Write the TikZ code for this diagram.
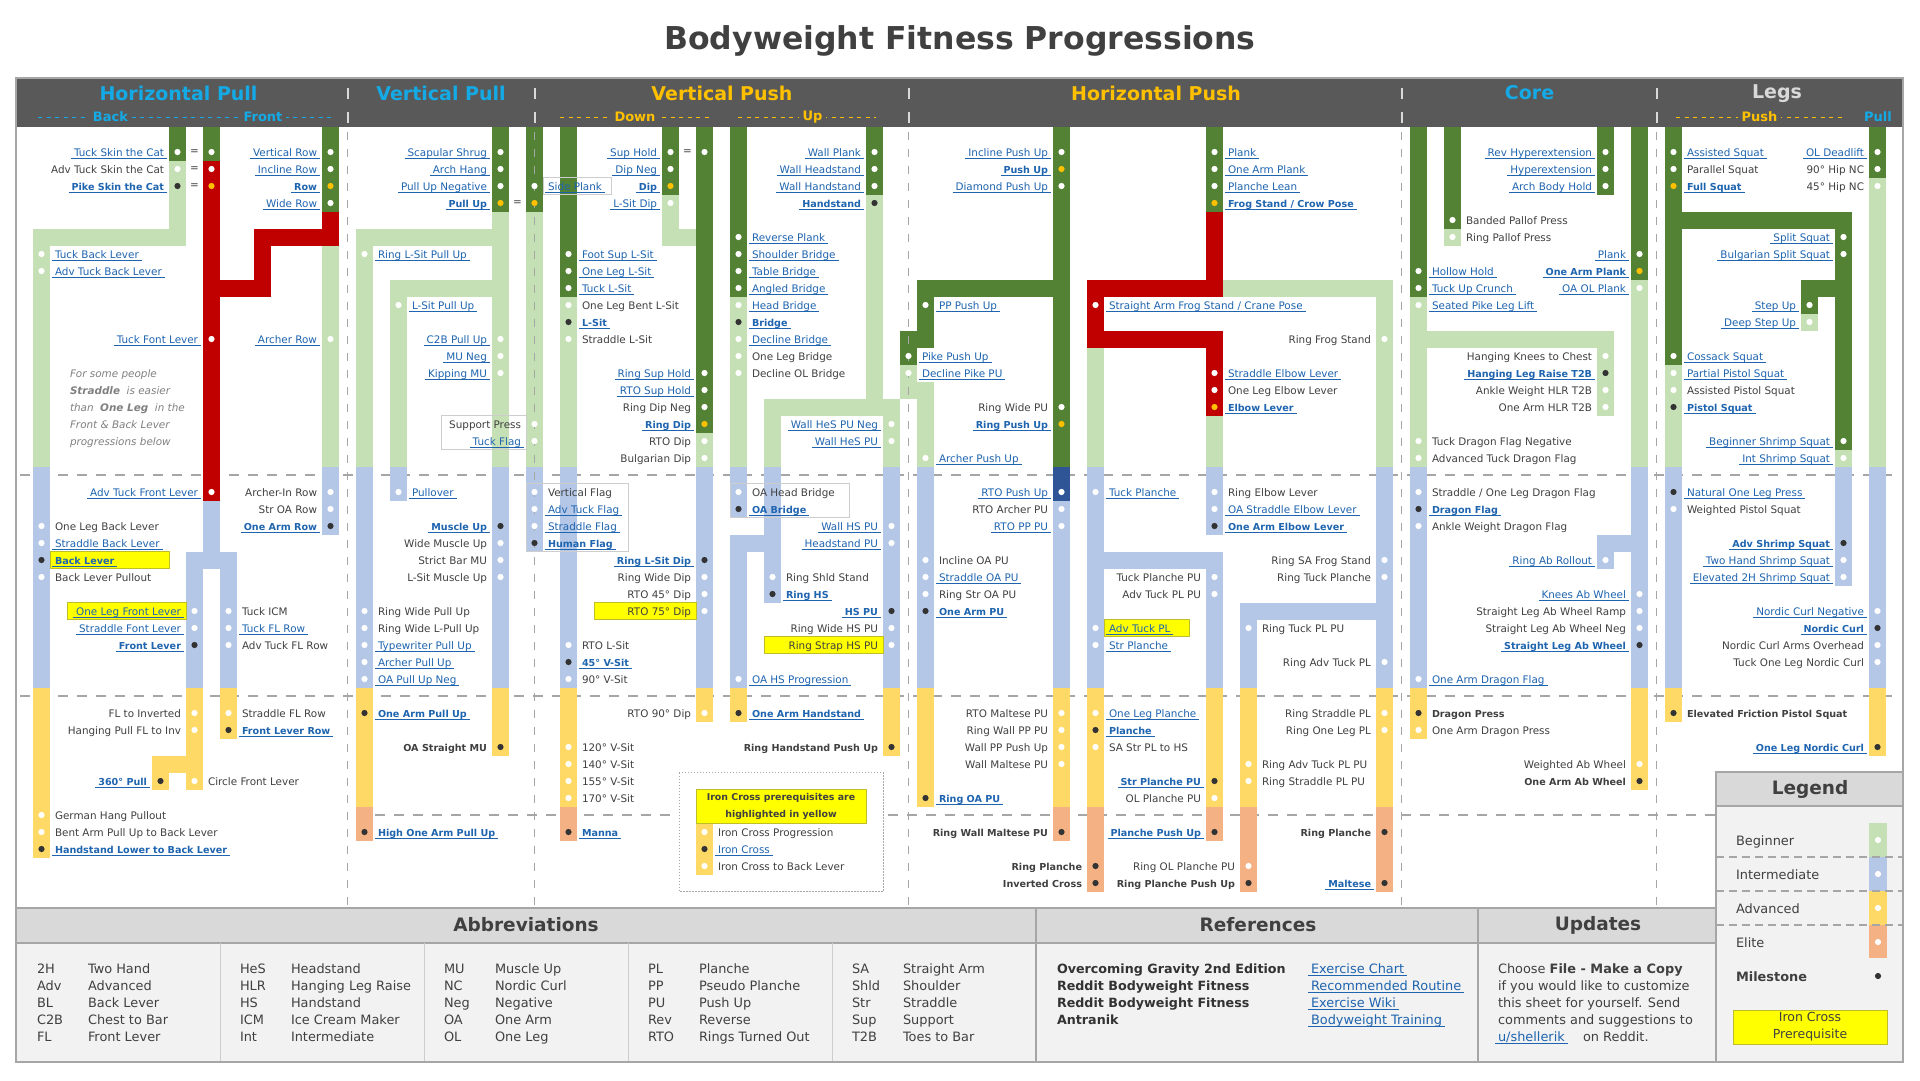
\documentclass[tikz,border=0pt]{standalone}
\usepackage{fontspec}
\setmainfont{DejaVu Sans}
\definecolor{cLG}{RGB}{197,224,180}
\definecolor{cDG}{RGB}{84,130,53}
\definecolor{cRD}{RGB}{192,0,0}
\definecolor{cBL}{RGB}{180,199,231}
\definecolor{cNB}{RGB}{47,85,151}
\definecolor{cYL}{RGB}{255,217,102}
\definecolor{cOR}{RGB}{244,177,131}
\definecolor{cHI}{RGB}{255,255,0}
\definecolor{cHIB}{RGB}{190,190,40}
\definecolor{cDY}{RGB}{255,192,0}
\definecolor{cDK}{RGB}{51,51,51}
\definecolor{cTG}{RGB}{64,64,64}
\definecolor{cNT}{RGB}{128,128,128}
\definecolor{cLK}{RGB}{30,100,175}
\definecolor{cHD}{RGB}{89,89,89}
\definecolor{cCY}{RGB}{20,170,230}
\definecolor{cHY}{RGB}{255,192,0}
\definecolor{cSEP}{RGB}{166,166,166}
\definecolor{cPG}{RGB}{217,217,217}
\definecolor{cPB}{RGB}{242,242,242}
\definecolor{cBX}{RGB}{205,205,205}
\newcounter{nc}
\newcommand\fs{\fontsize{10.4pt}{12pt}\selectfont}
\newcommand\fb{\fontsize{9.6pt}{12pt}\selectfont\bfseries}
\newcommand\fm{\fontsize{12.9pt}{15pt}\selectfont}
\newcommand\ft{\fontsize{18.5pt}{22pt}\selectfont\bfseries}
\tikzset{
  tb/.style={inner sep=0pt, outer sep=0pt},
  ulk/.style={append after command={([xshift=-3pt,yshift=-2.3pt]\tikzlastnode.base west) edge[draw=cLK, line width=0.7pt] ([xshift=3pt,yshift=-2.3pt]\tikzlastnode.base east)}},
  tp/.style={tb, font=\fs, text=cTG},
  tbp/.style={tb, font=\fb, text=cTG},
  tl/.style={tb, font=\fs, text=cLK, ulk},
  tbl/.style={tb, font=\fb, text=cLK, ulk},
  dw/.style={fill=white}, dy/.style={fill=cDY}, dk/.style={fill=cDK}, dn/.style={},
  hdrtitle/.style={font=\fontsize{19pt}{22pt}\selectfont\bfseries},
  subh/.style={fill=cHD, inner xsep=4pt, inner ysep=1pt, font=\fontsize{13pt}{15pt}\selectfont\bfseries},
  bt/.style={tb, font=\fm, text=cTG, anchor=base west},
}
\newcommand\BR[5]{\fill[#1] (#2,#3) rectangle (#4+1,#5+1);}
\newcommand\D[3]{\path[d#3] (#1+.5,#2+.5) circle (3.1pt);}
\newcommand\Rt[5]{\D{#1}{#2}{#4}\stepcounter{nc}\node[t#3, anchor=base east] (n\arabic{nc}) at ([xshift=-5pt,yshift=-4pt]#1,#2+.5) {#5};}
\newcommand\Lt[5]{\D{#1}{#2}{#4}\stepcounter{nc}\node[t#3, anchor=base west] (n\arabic{nc}) at ([xshift=5pt,yshift=-4pt]#1+1,#2+.5) {#5};}
\newcommand\HB[4]{\filldraw[fill=cHI, draw=cHIB, line width=0.8pt] (#1,#2) rectangle (#3+1,#4+1);}
\newcommand\GB[4]{\draw[cBX, line width=1pt] (#1,#2) rectangle (#3+1,#4+1);}
\newcommand\AB[4]{\stepcounter{nc}\node[bt] (n\arabic{nc}) at (#1,#2) {#3};\stepcounter{nc}\node[bt] (n\arabic{nc}) at (#1+51,#2) {#4};}
\begin{document}
\begin{tikzpicture}
\useasboundingbox (0,0) rectangle (1920pt,-1080pt);
\fill[white] (0,0) rectangle (1920pt,-1080pt);
%================ pixel scope: frame, header, tier lines
\begin{scope}[x=1pt,y=-1pt]
\node[font=\fontsize{31.5pt}{36pt}\selectfont\bfseries, text=cTG] (title) at (960,41) {Bodyweight Fitness Progressions};
\fill[cHD] (16,79) rectangle (1903,127);
\node[hdrtitle, text=cCY] (h1) at (178.5,93) {Horizontal Pull};
\node[hdrtitle, text=cCY] (h2) at (441,93) {Vertical Pull};
\node[hdrtitle, text=cHY] (h3) at (722,93) {Vertical Push};
\node[hdrtitle, text=cHY] (h4) at (1156,93) {Horizontal Push};
\node[hdrtitle, text=cCY] (h5) at (1529.5,93) {Core};
\node[hdrtitle, text=cPG] (h6) at (1777,94) {Legs};
\draw[cCY, line width=1.6pt, dash pattern=on 4pt off 4.5pt] (38,117.5) -- (335,117.5);
\node[subh, text=cCY] (s1) at (110.5,117) {Back};
\node[subh, text=cCY] (s2) at (263,117) {Front};
\draw[cHY, line width=1.6pt, dash pattern=on 4pt off 4.5pt] (560,117.5) -- (709,117.5);
\node[subh, text=cHY] (s3) at (635,117) {Down};
\draw[cHY, line width=1.6pt, dash pattern=on 4pt off 4.5pt] (738,117.5) -- (876,117.5);
\node[subh, text=cHY] (s4) at (812.5,117) {Up};
\draw[cHY, line width=1.6pt, dash pattern=on 4pt off 4.5pt] (1676,117.5) -- (1842,117.5);
\node[subh, text=cHY] (s5) at (1759.5,117) {Push};
\node[subh, text=cCY] (s6) at (1878,117) {Pull};
\foreach \sx in {347.5,534.5,908.5,1401.5,1656.5}{
  \draw[cPG, line width=2pt, dash pattern=on 11pt off 13pt] (\sx,88) -- (\sx,126);
}
% tier lines
\draw[cSEP, line width=1.3pt, dash pattern=on 10pt off 9pt] (20,475) -- (1900,475);
\draw[cSEP, line width=1.3pt, dash pattern=on 10pt off 9pt] (20,696) -- (1900,696);
\draw[cSEP, line width=1.3pt, dash pattern=on 10pt off 9pt] (356,815) -- (1716,815);
% italic note
\node[tb, font=\fs\itshape, text=cNT, anchor=base west] (note1) at (70,377) {For some people};
\node[tb, font=\fs\itshape, text=cNT, anchor=base west] (note2) at (70,394) {\textbf{Straddle}\ \ is easier};
\node[tb, font=\fs\itshape, text=cNT, anchor=base west] (note3) at (70,411) {than\ \ \textbf{One Leg}\ \ in the};
\node[tb, font=\fs\itshape, text=cNT, anchor=base west] (note4) at (70,428) {Front \& Back Lever};
\node[tb, font=\fs\itshape, text=cNT, anchor=base west] (note5) at (70,445) {progressions below};
\end{scope}
%================ grid scope: bars
\begin{scope}[shift={(16pt,-143.5pt)}, x=17pt, y=-17pt]
\filldraw[fill=white, draw=cSEP, dash pattern=on 1.5pt off 1.5pt, line width=0.8pt] (39,37) rectangle (51,44);
% HP
\BR{cLG}{1}{5}{1}{18}\BR{cBL}{1}{19}{1}{31}\BR{cYL}{1}{32}{1}{41}
\BR{cLG}{1}{5}{9}{5}
\BR{cDG}{9}{-1}{9}{0}\BR{cLG}{9}{1}{9}{5}
\BR{cDG}{11}{-1}{11}{0}\BR{cRD}{11}{1}{11}{20}\BR{cBL}{11}{21}{11}{23}
\BR{cRD}{11}{8}{14}{8}\BR{cRD}{14}{5}{14}{8}\BR{cRD}{14}{5}{18}{5}\BR{cRD}{18}{4}{18}{5}
\BR{cDG}{18}{-1}{18}{3}\BR{cLG}{18}{6}{18}{18}\BR{cBL}{18}{19}{18}{22}
\BR{cBL}{10}{24}{12}{24}
\BR{cBL}{10}{25}{10}{31}\BR{cYL}{10}{32}{10}{37}
\BR{cBL}{12}{25}{12}{31}\BR{cYL}{12}{32}{12}{34}
\BR{cYL}{8}{36}{10}{36}\BR{cYL}{8}{37}{8}{37}
% VP
\BR{cLG}{20}{5}{20}{18}\BR{cBL}{20}{19}{20}{31}\BR{cYL}{20}{32}{20}{38}\BR{cOR}{20}{39}{20}{40}
\BR{cLG}{20}{5}{28}{5}\BR{cLG}{22}{8}{28}{8}
\BR{cLG}{22}{8}{22}{18}\BR{cBL}{22}{19}{22}{20}
\BR{cDG}{28}{-1}{28}{3}\BR{cLG}{28}{4}{28}{18}\BR{cBL}{28}{19}{28}{31}\BR{cYL}{28}{32}{28}{35}
\BR{cDG}{30}{-1}{30}{3}\BR{cLG}{30}{4}{30}{18}\BR{cBL}{30}{19}{30}{23}
% VPush
\BR{cDG}{32}{-1}{32}{8}\BR{cLG}{32}{9}{32}{18}\BR{cBL}{32}{19}{32}{31}\BR{cYL}{32}{32}{32}{38}\BR{cOR}{32}{39}{32}{40}
\BR{cDG}{38}{-1}{38}{2}\BR{cLG}{38}{3}{38}{5}\BR{cLG}{38}{5}{39}{5}
\BR{cDG}{40}{-1}{40}{16}\BR{cLG}{40}{17}{40}{18}\BR{cBL}{40}{19}{40}{31}\BR{cYL}{40}{32}{40}{33}
\BR{cDG}{42}{-1}{42}{8}\BR{cLG}{42}{9}{42}{18}\BR{cBL}{42}{19}{42}{21}
\BR{cBL}{42}{23}{44}{23}\BR{cBL}{42}{23}{42}{31}\BR{cYL}{42}{32}{42}{33}
\BR{cDG}{50}{-1}{50}{2}\BR{cLG}{50}{3}{50}{15}
\BR{cLG}{44}{15}{51}{15}\BR{cLG}{44}{15}{44}{18}\BR{cBL}{44}{19}{44}{26}
\BR{cLG}{51}{15}{51}{18}\BR{cBL}{51}{19}{51}{31}\BR{cYL}{51}{32}{51}{35}
\BR{cYL}{40}{40}{40}{42}
% HPush
\BR{cDG}{52}{11}{52}{12}\BR{cLG}{52}{13}{52}{14}
\BR{cDG}{53}{8}{53}{11}\BR{cLG}{53}{14}{53}{18}\BR{cBL}{53}{19}{53}{31}\BR{cYL}{53}{32}{53}{38}
\BR{cDG}{53}{8}{61}{8}
\BR{cDG}{61}{-1}{61}{18}\BR{cNB}{61}{19}{61}{20}\BR{cBL}{61}{21}{61}{31}\BR{cYL}{61}{32}{61}{38}\BR{cOR}{61}{39}{61}{40}
\BR{cRD}{63}{8}{63}{11}\BR{cLG}{63}{12}{63}{18}\BR{cBL}{63}{19}{63}{31}\BR{cYL}{63}{32}{63}{38}\BR{cOR}{63}{39}{63}{43}
\BR{cRD}{63}{8}{70}{8}\BR{cRD}{63}{11}{70}{11}
\BR{cDG}{70}{-1}{70}{3}\BR{cRD}{70}{4}{70}{8}\BR{cRD}{70}{11}{70}{15}\BR{cLG}{70}{16}{70}{18}\BR{cBL}{70}{19}{70}{22}
\BR{cBL}{63}{24}{70}{24}\BR{cBL}{70}{24}{70}{31}\BR{cYL}{70}{32}{70}{38}\BR{cOR}{70}{39}{70}{40}
\BR{cLG}{71}{8}{80}{8}
\BR{cLG}{80}{8}{80}{18}\BR{cBL}{80}{19}{80}{31}\BR{cYL}{80}{32}{80}{38}\BR{cOR}{80}{39}{80}{43}
\BR{cBL}{72}{27}{80}{27}\BR{cBL}{72}{27}{72}{31}\BR{cYL}{72}{32}{72}{38}\BR{cOR}{72}{39}{72}{43}
% Core
\BR{cDG}{82}{-1}{82}{8}\BR{cLG}{82}{9}{82}{18}\BR{cBL}{82}{19}{82}{31}\BR{cYL}{82}{32}{82}{34}
\BR{cDG}{84}{-1}{84}{4}\BR{cLG}{84}{5}{84}{5}
\BR{cDG}{93}{-1}{93}{2}
\BR{cLG}{82}{11}{93}{11}\BR{cLG}{93}{11}{93}{15}
\BR{cBL}{93}{23}{95}{23}\BR{cBL}{93}{23}{93}{24}
\BR{cDG}{95}{-1}{95}{7}\BR{cLG}{95}{8}{95}{18}\BR{cBL}{95}{19}{95}{31}\BR{cYL}{95}{32}{95}{37}
% Legs
\BR{cDG}{97}{-1}{97}{12}\BR{cLG}{97}{13}{97}{18}\BR{cBL}{97}{19}{97}{31}\BR{cYL}{97}{32}{97}{33}
\BR{cDG}{97}{4}{107}{4}\BR{cDG}{107}{4}{107}{17}\BR{cLG}{107}{18}{107}{18}\BR{cBL}{107}{19}{107}{25}
\BR{cDG}{105}{8}{107}{8}\BR{cDG}{105}{8}{105}{9}\BR{cLG}{105}{10}{105}{10}
\BR{cDG}{109}{-1}{109}{1}\BR{cLG}{109}{2}{109}{18}\BR{cBL}{109}{19}{109}{31}\BR{cYL}{109}{32}{109}{35}
% boxes
\HB{2}{24}{8}{24}\HB{3}{27}{9}{27}\HB{34}{27}{39}{27}\HB{44}{29}{50}{29}\HB{64}{28}{68}{28}\HB{40}{38}{49}{39}
\GB{31}{2}{34}{2}\GB{25}{16}{29}{17}\GB{30}{20}{35}{23}\GB{42}{20}{48}{21}
\end{scope}
%================ separators
\begin{scope}[x=1pt,y=-1pt]
\foreach \sx in {347.5,534.5,908.5,1401.5,1656.5}{
  \draw[cSEP, line width=1.8pt, dash pattern=on 8.5pt off 8.5pt] (\sx,131.5) -- (\sx,908);
}
\end{scope}
%================ grid scope: dots and texts
\begin{scope}[shift={(16pt,-143.5pt)}, x=17pt, y=-17pt]
% HP
\Rt{9}{0}{l}{w}{Tuck Skin the Cat}
\Rt{9}{1}{p}{w}{Adv Tuck Skin the Cat}
\Rt{9}{2}{bl}{k}{Pike Skin the Cat}
\node[tp] (eq1) at (10.5,0.5) {=};
\node[tp] (eq2) at (10.5,1.5) {=};
\node[tp] (eq3) at (10.5,2.5) {=};
\D{11}{0}{w}\D{11}{1}{w}\D{11}{2}{y}
\Rt{18}{0}{l}{w}{Vertical Row}
\Rt{18}{1}{l}{w}{Incline Row}
\Rt{18}{2}{bl}{y}{Row}
\Rt{18}{3}{l}{w}{Wide Row}
\Lt{1}{6}{l}{w}{Tuck Back Lever}
\Lt{1}{7}{l}{w}{Adv Tuck Back Lever}
\Rt{11}{11}{l}{w}{Tuck Font Lever}
\Rt{18}{11}{l}{w}{Archer Row}
\Rt{11}{20}{l}{w}{Adv Tuck Front Lever}
\Rt{18}{20}{p}{w}{Archer-In Row}
\Rt{18}{21}{p}{w}{Str OA Row}
\Rt{18}{22}{bl}{k}{One Arm Row}
\Lt{1}{22}{p}{w}{One Leg Back Lever}
\Lt{1}{23}{l}{w}{Straddle Back Lever}
\Lt{1}{24}{bl}{k}{Back Lever}
\Lt{1}{25}{p}{w}{Back Lever Pullout}
\Rt{10}{27}{l}{w}{One Leg Front Lever}
\Rt{10}{28}{l}{w}{Straddle Font Lever}
\Rt{10}{29}{bl}{k}{Front Lever}
\Lt{12}{27}{p}{w}{Tuck ICM}
\Lt{12}{28}{l}{w}{Tuck FL Row}
\Lt{12}{29}{p}{w}{Adv Tuck FL Row}
\Rt{10}{33}{p}{w}{FL to Inverted}
\Rt{10}{34}{p}{w}{Hanging Pull FL to Inv}
\Lt{12}{33}{p}{w}{Straddle FL Row}
\Lt{12}{34}{bl}{k}{Front Lever Row}
\Rt{8}{37}{bl}{k}{360° Pull}
\Lt{10}{37}{p}{w}{Circle Front Lever}
\Lt{1}{39}{p}{w}{German Hang Pullout}
\Lt{1}{40}{p}{w}{Bent Arm Pull Up to Back Lever}
\Lt{1}{41}{bl}{k}{Handstand Lower to Back Lever}
% VP
\Rt{28}{0}{l}{w}{Scapular Shrug}
\Rt{28}{1}{l}{w}{Arch Hang}
\Rt{28}{2}{l}{w}{Pull Up Negative}
\Rt{28}{3}{bl}{y}{Pull Up}
\node[tp] (eq4) at (29.5,3.5) {=};
\Lt{30}{2}{l}{w}{Side Plank}
\D{30}{3}{y}
\Lt{20}{6}{l}{w}{Ring L-Sit Pull Up}
\Lt{22}{9}{l}{w}{L-Sit Pull Up}
\Rt{28}{11}{l}{w}{C2B Pull Up}
\Rt{28}{12}{l}{w}{MU Neg}
\Rt{28}{13}{l}{w}{Kipping MU}
\Rt{30}{16}{p}{w}{Support Press}
\Rt{30}{17}{l}{w}{Tuck Flag}
\Lt{22}{20}{l}{w}{Pullover}
\Rt{28}{22}{bl}{k}{Muscle Up}
\Rt{28}{23}{p}{w}{Wide Muscle Up}
\Rt{28}{24}{p}{w}{Strict Bar MU}
\Rt{28}{25}{p}{w}{L-Sit Muscle Up}
\Lt{30}{20}{p}{w}{Vertical Flag}
\Lt{30}{21}{l}{w}{Adv Tuck Flag}
\Lt{30}{22}{l}{w}{Straddle Flag}
\Lt{30}{23}{bl}{k}{Human Flag}
\Lt{20}{27}{p}{w}{Ring Wide Pull Up}
\Lt{20}{28}{p}{w}{Ring Wide L-Pull Up}
\Lt{20}{29}{l}{w}{Typewriter Pull Up}
\Lt{20}{30}{l}{w}{Archer Pull Up}
\Lt{20}{31}{l}{w}{OA Pull Up Neg}
\Lt{20}{33}{bl}{k}{One Arm Pull Up}
\Rt{28}{35}{bp}{k}{OA Straight MU}
\Lt{20}{40}{bl}{k}{High One Arm Pull Up}
% VPush
\Rt{38}{0}{l}{w}{Sup Hold}
\Rt{38}{1}{l}{w}{Dip Neg}
\Rt{38}{2}{bl}{y}{Dip}
\Rt{38}{3}{l}{w}{L-Sit Dip}
\node[tp] (eq5) at (39.5,0.5) {=};
\D{40}{0}{w}
\Lt{32}{6}{l}{w}{Foot Sup L-Sit}
\Lt{32}{7}{l}{w}{One Leg L-Sit}
\Lt{32}{8}{l}{w}{Tuck L-Sit}
\Lt{32}{9}{p}{w}{One Leg Bent L-Sit}
\Lt{32}{10}{bl}{k}{L-Sit}
\Lt{32}{11}{p}{w}{Straddle L-Sit}
\Rt{40}{13}{l}{w}{Ring Sup Hold}
\Rt{40}{14}{l}{w}{RTO Sup Hold}
\Rt{40}{15}{p}{w}{Ring Dip Neg}
\Rt{40}{16}{bl}{y}{Ring Dip}
\Rt{40}{17}{p}{w}{RTO Dip}
\Rt{40}{18}{p}{w}{Bulgarian Dip}
\Rt{40}{24}{bl}{k}{Ring L-Sit Dip}
\Rt{40}{25}{p}{w}{Ring Wide Dip}
\Rt{40}{26}{p}{w}{RTO 45° Dip}
\Rt{40}{27}{p}{w}{RTO 75° Dip}
\Rt{40}{33}{p}{w}{RTO 90° Dip}
\Lt{32}{29}{p}{w}{RTO L-Sit}
\Lt{32}{30}{bl}{k}{45° V-Sit}
\Lt{32}{31}{p}{w}{90° V-Sit}
\Lt{32}{35}{p}{w}{120° V-Sit}
\Lt{32}{36}{p}{w}{140° V-Sit}
\Lt{32}{37}{p}{w}{155° V-Sit}
\Lt{32}{38}{p}{w}{170° V-Sit}
\Lt{32}{40}{bl}{k}{Manna}
\Rt{50}{0}{l}{w}{Wall Plank}
\Rt{50}{1}{l}{w}{Wall Headstand}
\Rt{50}{2}{l}{w}{Wall Handstand}
\Rt{50}{3}{bl}{k}{Handstand}
\Lt{42}{5}{l}{w}{Reverse Plank}
\Lt{42}{6}{l}{w}{Shoulder Bridge}
\Lt{42}{7}{l}{w}{Table Bridge}
\Lt{42}{8}{l}{w}{Angled Bridge}
\Lt{42}{9}{l}{w}{Head Bridge}
\Lt{42}{10}{bl}{k}{Bridge}
\Lt{42}{11}{l}{w}{Decline Bridge}
\Lt{42}{12}{p}{w}{One Leg Bridge}
\Lt{42}{13}{p}{w}{Decline OL Bridge}
\Rt{51}{16}{l}{w}{Wall HeS PU Neg}
\Rt{51}{17}{l}{w}{Wall HeS PU}
\Lt{42}{20}{p}{w}{OA Head Bridge}
\Lt{42}{21}{bl}{k}{OA Bridge}
\Rt{51}{22}{l}{w}{Wall HS PU}
\Rt{51}{23}{l}{w}{Headstand PU}
\Lt{44}{25}{p}{w}{Ring Shld Stand}
\Lt{44}{26}{bl}{k}{Ring HS}
\Rt{51}{27}{bl}{k}{HS PU}
\Rt{51}{28}{p}{w}{Ring Wide HS PU}
\Rt{51}{29}{p}{w}{Ring Strap HS PU}
\Lt{42}{31}{l}{w}{OA HS Progression}
\Lt{42}{33}{bl}{k}{One Arm Handstand}
\Rt{51}{35}{bp}{k}{Ring Handstand Push Up}
\node[tb, font=\fontsize{9.4pt}{17pt}\selectfont\bfseries, text=cTG, align=center] (icnote) at (45,39) {Iron Cross prerequisites are\\highlighted in yellow};
\Lt{40}{40}{p}{w}{Iron Cross Progression}
\Lt{40}{41}{l}{k}{Iron Cross}
\Lt{40}{42}{p}{w}{Iron Cross to Back Lever}
% HPush
\Rt{61}{0}{l}{w}{Incline Push Up}
\Rt{61}{1}{bl}{y}{Push Up}
\Rt{61}{2}{l}{w}{Diamond Push Up}
\Lt{70}{0}{l}{w}{Plank}
\Lt{70}{1}{l}{w}{One Arm Plank}
\Lt{70}{2}{l}{w}{Planche Lean}
\Lt{70}{3}{bl}{y}{Frog Stand / Crow Pose}
\Lt{53}{9}{l}{w}{PP Push Up}
\Lt{63}{9}{l}{w}{Straight Arm Frog Stand / Crane Pose}
\Rt{80}{11}{p}{w}{Ring Frog Stand}
\Lt{52}{12}{l}{w}{Pike Push Up}
\Lt{52}{13}{l}{w}{Decline Pike PU}
\Lt{70}{13}{l}{w}{Straddle Elbow Lever}
\Lt{70}{14}{p}{w}{One Leg Elbow Lever}
\Lt{70}{15}{bl}{y}{Elbow Lever}
\Rt{61}{15}{p}{w}{Ring Wide PU}
\Rt{61}{16}{bl}{y}{Ring Push Up}
\Lt{53}{18}{l}{w}{Archer Push Up}
\Rt{61}{20}{l}{w}{RTO Push Up}
\Rt{61}{21}{p}{w}{RTO Archer PU}
\Rt{61}{22}{l}{w}{RTO PP PU}
\Lt{63}{20}{l}{w}{Tuck Planche}
\Lt{70}{20}{p}{w}{Ring Elbow Lever}
\Lt{70}{21}{l}{w}{OA Straddle Elbow Lever}
\Lt{70}{22}{bl}{k}{One Arm Elbow Lever}
\Lt{53}{24}{p}{w}{Incline OA PU}
\Lt{53}{25}{l}{w}{Straddle OA PU}
\Lt{53}{26}{p}{w}{Ring Str OA PU}
\Lt{53}{27}{bl}{k}{One Arm PU}
\Rt{80}{24}{p}{w}{Ring SA Frog Stand}
\Rt{80}{25}{p}{w}{Ring Tuck Planche}
\Rt{70}{25}{p}{w}{Tuck Planche PU}
\Rt{70}{26}{p}{w}{Adv Tuck PL PU}
\Lt{63}{28}{l}{w}{Adv Tuck PL}
\Lt{63}{29}{l}{w}{Str Planche}
\Lt{72}{28}{p}{w}{Ring Tuck PL PU}
\Rt{80}{30}{p}{w}{Ring Adv Tuck PL}
\Rt{61}{33}{p}{w}{RTO Maltese PU}
\Rt{61}{34}{p}{w}{Ring Wall PP PU}
\Rt{61}{35}{p}{w}{Wall PP Push Up}
\Rt{61}{36}{p}{w}{Wall Maltese PU}
\Lt{53}{38}{bl}{k}{Ring OA PU}
\Lt{63}{33}{l}{w}{One Leg Planche}
\Lt{63}{34}{bl}{k}{Planche}
\Lt{63}{35}{p}{w}{SA Str PL to HS}
\Rt{80}{33}{p}{w}{Ring Straddle PL}
\Rt{80}{34}{p}{w}{Ring One Leg PL}
\Lt{72}{36}{p}{w}{Ring Adv Tuck PL PU}
\Lt{72}{37}{p}{w}{Ring Straddle PL PU}
\Rt{70}{37}{bl}{k}{Str Planche PU}
\Rt{70}{38}{p}{w}{OL Planche PU}
\Rt{61}{40}{bp}{k}{Ring Wall Maltese PU}
\Rt{70}{40}{bl}{k}{Planche Push Up}
\Rt{80}{40}{bp}{k}{Ring Planche}
\Rt{63}{42}{bp}{k}{Ring Planche}
\Rt{63}{43}{bp}{k}{Inverted Cross}
\Rt{72}{42}{p}{w}{Ring OL Planche PU}
\Rt{72}{43}{bp}{k}{Ring Planche Push Up}
\Rt{80}{43}{bl}{k}{Maltese}
% Core
\Rt{93}{0}{l}{w}{Rev Hyperextension}
\Rt{93}{1}{l}{w}{Hyperextension}
\Rt{93}{2}{l}{w}{Arch Body Hold}
\Lt{84}{4}{p}{w}{Banded Pallof Press}
\Lt{84}{5}{p}{w}{Ring Pallof Press}
\Rt{95}{6}{l}{w}{Plank}
\Rt{95}{7}{bl}{y}{One Arm Plank}
\Rt{95}{8}{l}{w}{OA OL Plank}
\Lt{82}{7}{l}{w}{Hollow Hold}
\Lt{82}{8}{l}{w}{Tuck Up Crunch}
\Lt{82}{9}{l}{w}{Seated Pike Leg Lift}
\Rt{93}{12}{p}{w}{Hanging Knees to Chest}
\Rt{93}{13}{bl}{k}{Hanging Leg Raise T2B}
\Rt{93}{14}{p}{w}{Ankle Weight HLR T2B}
\Rt{93}{15}{p}{w}{One Arm HLR T2B}
\Lt{82}{17}{p}{w}{Tuck Dragon Flag Negative}
\Lt{82}{18}{p}{w}{Advanced Tuck Dragon Flag}
\Lt{82}{20}{p}{w}{Straddle / One Leg Dragon Flag}
\Lt{82}{21}{bl}{k}{Dragon Flag}
\Lt{82}{22}{p}{w}{Ankle Weight Dragon Flag}
\Rt{93}{24}{l}{w}{Ring Ab Rollout}
\Rt{95}{26}{l}{w}{Knees Ab Wheel}
\Rt{95}{27}{p}{w}{Straight Leg Ab Wheel Ramp}
\Rt{95}{28}{p}{w}{Straight Leg Ab Wheel Neg}
\Rt{95}{29}{bl}{k}{Straight Leg Ab Wheel}
\Lt{82}{31}{l}{w}{One Arm Dragon Flag}
\Lt{82}{33}{bp}{k}{Dragon Press}
\Lt{82}{34}{p}{w}{One Arm Dragon Press}
\Rt{95}{36}{p}{w}{Weighted Ab Wheel}
\Rt{95}{37}{bp}{k}{One Arm Ab Wheel}
% Legs
\Lt{97}{0}{l}{w}{Assisted Squat}
\Lt{97}{1}{p}{w}{Parallel Squat}
\Lt{97}{2}{bl}{y}{Full Squat}
\Rt{109}{0}{l}{w}{OL Deadlift}
\Rt{109}{1}{p}{w}{90° Hip NC}
\Rt{109}{2}{p}{w}{45° Hip NC}
\Rt{107}{5}{l}{w}{Split Squat}
\Rt{107}{6}{l}{w}{Bulgarian Split Squat}
\Rt{105}{9}{l}{w}{Step Up}
\Rt{105}{10}{l}{w}{Deep Step Up}
\Lt{97}{12}{l}{w}{Cossack Squat}
\Lt{97}{13}{l}{w}{Partial Pistol Squat}
\Lt{97}{14}{p}{w}{Assisted Pistol Squat}
\Lt{97}{15}{bl}{k}{Pistol Squat}
\Rt{107}{17}{l}{w}{Beginner Shrimp Squat}
\Rt{107}{18}{l}{w}{Int Shrimp Squat}
\Lt{97}{20}{l}{k}{Natural One Leg Press}
\Lt{97}{21}{p}{w}{Weighted Pistol Squat}
\Rt{107}{23}{bl}{k}{Adv Shrimp Squat}
\Rt{107}{24}{l}{w}{Two Hand Shrimp Squat}
\Rt{107}{25}{l}{w}{Elevated 2H Shrimp Squat}
\Rt{109}{27}{l}{w}{Nordic Curl Negative}
\Rt{109}{28}{bl}{k}{Nordic Curl}
\Rt{109}{29}{p}{w}{Nordic Curl Arms Overhead}
\Rt{109}{30}{p}{w}{Tuck One Leg Nordic Curl}
\Lt{97}{33}{bp}{k}{Elevated Friction Pistol Squat}
\Rt{109}{35}{bl}{k}{One Leg Nordic Curl}
\end{scope}
%================ bottom panels
\begin{scope}[x=1pt,y=-1pt]
\fill[cPG] (16,908) rectangle (1716,943);
\fill[cPB] (16,943) rectangle (1716,1062);
\draw[cSEP, line width=2.5pt] (16,908) -- (1716,908);
\draw[cSEP, line width=1.5pt] (16,943) -- (1716,943);
\draw[cSEP, line width=2.5pt] (1036,908) -- (1036,1062);
\draw[cSEP, line width=2.5pt] (1478,908) -- (1478,1062);
\foreach \vx in {220,424,628,832}{\draw[cBX, line width=1pt] (\vx,943) -- (\vx,1062);}
\node[font=\ft, text=cTG] (abt) at (526,925) {Abbreviations};
\node[font=\ft, text=cTG] (ret) at (1258,925) {References};
\node[font=\ft, text=cTG] (upt) at (1598,925) {Updates};
\AB{37}{973}{2H}{Two Hand}
\AB{37}{990}{Adv}{Advanced}
\AB{37}{1007}{BL}{Back Lever}
\AB{37}{1024}{C2B}{Chest to Bar}
\AB{37}{1041}{FL}{Front Lever}
\AB{240}{973}{HeS}{Headstand}
\AB{240}{990}{HLR}{Hanging Leg Raise}
\AB{240}{1007}{HS}{Handstand}
\AB{240}{1024}{ICM}{Ice Cream Maker}
\AB{240}{1041}{Int}{Intermediate}
\AB{444}{973}{MU}{Muscle Up}
\AB{444}{990}{NC}{Nordic Curl}
\AB{444}{1007}{Neg}{Negative}
\AB{444}{1024}{OA}{One Arm}
\AB{444}{1041}{OL}{One Leg}
\AB{648}{973}{PL}{Planche}
\AB{648}{990}{PP}{Pseudo Planche}
\AB{648}{1007}{PU}{Push Up}
\AB{648}{1024}{Rev}{Reverse}
\AB{648}{1041}{RTO}{Rings Turned Out}
\AB{852}{973}{SA}{Straight Arm}
\AB{852}{990}{Shld}{Shoulder}
\AB{852}{1007}{Str}{Straddle}
\AB{852}{1024}{Sup}{Support}
\AB{852}{1041}{T2B}{Toes to Bar}
\node[bt, font=\fontsize{12.7pt}{15pt}\selectfont\bfseries, text=cDK] (r1) at (1057,973) {Overcoming Gravity 2nd Edition};
\node[bt, font=\fontsize{12.7pt}{15pt}\selectfont\bfseries, text=cDK] (r2) at (1057,990) {Reddit Bodyweight Fitness};
\node[bt, font=\fontsize{12.7pt}{15pt}\selectfont\bfseries, text=cDK] (r3) at (1057,1007) {Reddit Bodyweight Fitness};
\node[bt, font=\fontsize{12.7pt}{15pt}\selectfont\bfseries, text=cDK] (r4) at (1057,1024) {Antranik};
\node[bt, text=cLK, ulk] (l1) at (1311,973) {Exercise Chart};
\node[bt, text=cLK, ulk] (l2) at (1311,990) {Recommended Routine};
\node[bt, text=cLK, ulk] (l3) at (1311,1007) {Exercise Wiki};
\node[bt, text=cLK, ulk] (l4) at (1311,1024) {Bodyweight Training};
\node[bt] (u1) at (1498,973) {Choose \textbf{File - Make a Copy}};
\node[bt] (u2) at (1498,990) {if you would like to customize};
\node[bt] (u3) at (1498,1007) {this sheet for yourself. Send};
\node[bt] (u4) at (1498,1024) {comments and suggestions to};
\node[bt, text=cLK, ulk] (u5) at (1498,1041) {u/shellerik};
\node[bt] (u6) at (1583,1041) {on Reddit.};
% legend
\fill[cPB] (1716,772) rectangle (1903,1062);
\fill[cPG] (1716,772) rectangle (1903,806);
\draw[cSEP, line width=1.5pt] (1716,806) -- (1903,806);
\node[font=\ft, text=cTG] (lgt) at (1810,789) {Legend};
\fill[cLG] (1869,823) rectangle (1887,857);
\fill[cBL] (1869,857) rectangle (1887,891);
\fill[cYL] (1869,891) rectangle (1887,925);
\fill[cOR] (1869,925) rectangle (1887,958);
\foreach \ly in {857,891,925}{\draw[cSEP, line width=1.5pt, dash pattern=on 8pt off 5pt] (1716,\ly) -- (1903,\ly);}
\foreach \ly in {840,874,908,942}{\fill[white] (1878,\ly) circle (3.1pt);}
\fill[cDK] (1878,976) circle (3.1pt);
\node[bt] (lg1) at (1736,845) {Beginner};
\node[bt] (lg2) at (1736,879) {Intermediate};
\node[bt] (lg3) at (1736,913) {Advanced};
\node[bt] (lg4) at (1736,947) {Elite};
\node[bt, font=\fm\bfseries] (lg5) at (1736,981) {Milestone};
\filldraw[fill=cHI, draw=cHIB, line width=0.8pt] (1733,1010) rectangle (1887,1044);
\node[font=\fontsize{12.5pt}{17pt}\selectfont, text=cTG, align=center] (lg6) at (1810,1027) {Iron Cross\\Prerequisite};
\draw[cSEP, line width=2.5pt] (1716,772) rectangle (1903,1062);
% outer frame
\draw[cSEP, line width=2.5pt] (16,78) rectangle (1903,1062);
\end{scope}
\end{tikzpicture}
\end{document}
